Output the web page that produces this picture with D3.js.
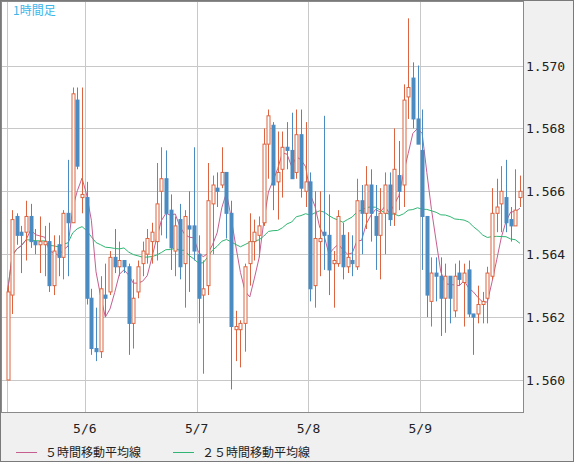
<!DOCTYPE html>
<html>
<head>
<meta charset="utf-8">
<script src="https://cdn.jsdelivr.net/npm/d3@7"></script>
<style>
  body { margin: 0; background: #f0f0f0; }
  svg { display: block; }
</style>
</head>
<body>
<svg id="chart" width="574" height="462"></svg>
<script>
// 1時間足 OHLC
var opens  = [1.5600,1.5627,1.5652,1.5647,1.5647,1.5652,1.5644,1.5643,1.5643,1.5644,1.5630,1.5643,1.5639,1.5653,1.5650,1.5689,1.5658,1.5658,1.5626,1.5610,1.5609,1.5627,1.5628,1.5639,1.5636,1.5638,1.5636,1.5618,
              1.5628,1.5637,1.5640,1.5644,1.5644,1.5660,1.5664,1.5654,1.5641,1.5651,1.5637,1.5649,1.5649,1.5640,1.5627,1.5630,1.5656,1.5661,1.5662,1.5666,1.5653,1.5616,1.5616,1.5618,1.5637,1.5644,1.5646,1.5650,
              1.5675,1.5681,1.5663,1.5667,1.5674,1.5673,1.5666,1.5678,1.5660,1.5663,1.5630,1.5644,1.5647,1.5646,1.5637,1.5637,1.5646,1.5636,1.5638,1.5636,1.5657,1.5653,1.5662,1.5652,1.5646,1.5653,1.5662,
              1.5653,1.5665,1.5662,1.5690,1.5696,1.5683,1.5673,1.5652,1.5625,1.5634,1.5633,1.5626,1.5633,1.5622,1.5634,1.5631,1.5635,1.5621,1.5621,1.5624,1.5626,1.5633,1.5653,1.5656,1.5658,1.5651,1.5649,1.5658];
var highs  = [1.5630,1.5654,1.5653,1.5649,1.5657,1.5656,1.5648,1.5652,1.5649,1.5650,1.5646,1.5646,1.5654,1.5670,1.5693,1.5693,1.5693,1.5663,1.5629,1.5623,1.5633,1.5637,1.5641,1.5648,1.5644,1.5638,1.5637,1.5632,
              1.5638,1.5644,1.5648,1.5650,1.5669,1.5674,1.5673,1.5659,1.5652,1.5656,1.5654,1.5660,1.5674,1.5646,1.5638,1.5669,1.5665,1.5666,1.5674,1.5666,1.5657,1.5622,1.5619,1.5637,1.5653,1.5651,1.5652,1.5680,
              1.5686,1.5682,1.5679,1.5679,1.5682,1.5685,1.5686,1.5686,1.5682,1.5666,1.5660,1.5660,1.5684,1.5659,1.5641,1.5654,1.5650,1.5647,1.5646,1.5664,1.5662,1.5668,1.5667,1.5662,1.5661,1.5666,1.5666,
              1.5680,1.5676,1.5694,1.5715,1.5701,1.5700,1.5686,1.5652,1.5639,1.5639,1.5639,1.5637,1.5633,1.5637,1.5638,1.5637,1.5638,1.5621,1.5630,1.5628,1.5636,1.5661,1.5664,1.5668,1.5670,1.5655,1.5667,1.5665];
var lows   = [1.5600,1.5621,1.5643,1.5634,1.5638,1.5642,1.5640,1.5634,1.5633,1.5628,1.5627,1.5633,1.5632,1.5633,1.5650,1.5667,1.5653,1.5624,1.5608,1.5606,1.5607,1.5620,1.5627,1.5634,1.5633,1.5634,1.5608,1.5610,
              1.5626,1.5633,1.5637,1.5637,1.5638,1.5646,1.5645,1.5635,1.5633,1.5632,1.5623,1.5628,1.5638,1.5618,1.5602,1.5627,1.5640,1.5655,1.5661,1.5645,1.5597,1.5606,1.5604,1.5609,1.5630,1.5638,1.5639,1.5649,
              1.5664,1.5654,1.5651,1.5658,1.5667,1.5664,1.5664,1.5658,1.5655,1.5625,1.5623,1.5633,1.5635,1.5627,1.5623,1.5636,1.5632,1.5634,1.5633,1.5635,1.5640,1.5648,1.5644,1.5635,1.5632,1.5640,1.5649,
              1.5649,1.5654,1.5655,1.5683,1.5680,1.5675,1.5635,1.5620,1.5617,1.5625,1.5614,1.5615,1.5618,1.5620,1.5630,1.5617,1.5620,1.5608,1.5618,1.5618,1.5618,1.5632,1.5647,1.5647,1.5647,1.5644,1.5649,1.5655];
var closes = [1.5628,1.5651,1.5646,1.5646,1.5652,1.5644,1.5643,1.5644,1.5644,1.5630,1.5641,1.5639,1.5653,1.5650,1.5691,1.5668,1.5659,1.5626,1.5610,1.5609,1.5629,1.5626,1.5639,1.5636,1.5638,1.5636,1.5618,1.5626,
              1.5636,1.5641,1.5645,1.5647,1.5656,1.5664,1.5653,1.5642,1.5649,1.5636,1.5652,1.5648,1.5641,1.5626,1.5629,1.5657,1.5662,1.5660,1.5666,1.5653,1.5617,1.5617,1.5618,1.5636,1.5644,1.5647,1.5649,1.5675,
              1.5684,1.5662,1.5666,1.5674,1.5673,1.5664,1.5678,1.5661,1.5663,1.5629,1.5645,1.5645,1.5646,1.5635,1.5638,1.5652,1.5636,1.5639,1.5637,1.5657,1.5653,1.5662,1.5653,1.5646,1.5653,1.5662,1.5651,
              1.5667,1.5660,1.5689,1.5693,1.5683,1.5675,1.5652,1.5627,1.5634,1.5633,1.5626,1.5633,1.5626,1.5633,1.5632,1.5634,1.5621,1.5620,1.5624,1.5625,1.5634,1.5653,1.5655,1.5660,1.5650,1.5649,1.5654,1.5660];
var dayLabels = ['5/6', '5/7', '5/8', '5/9'];
var dayStarts = [16.6, 40.6, 64.6, 88.6];   // candle index where each day begins
var priceTicks = [1.560, 1.562, 1.564, 1.566, 1.568, 1.570];

var upColor = '#dc6440', downColor = '#4a8bc2';
var ma5Color = '#c65f8f', ma25Color = '#2fb673';

var svg = d3.select('#chart');
var plotL = 2, plotR = 523, plotT = 2, plotB = 412;

var x = d3.scaleLinear().domain([0, closes.length - 1]).range([7.5, 520]);
var y = d3.scaleLinear().domain([1.560, 1.570]).range([380, 65.5]);

// outer frame
svg.append('rect').attr('x', 0.5).attr('y', 0.5).attr('width', 573).attr('height', 461)
  .attr('fill', '#f0f0f0').attr('stroke', '#7a7a7a');
svg.append('rect').attr('x', plotL).attr('y', plotT).attr('width', plotR - plotL).attr('height', plotB - plotT)
  .attr('fill', '#fff');

svg.append('defs').append('clipPath').attr('id', 'plot')
  .append('rect').attr('x', plotL).attr('y', plotT).attr('width', plotR - plotL).attr('height', plotB - plotT);

var g = svg.append('g').attr('clip-path', 'url(#plot)');

// grid
g.selectAll('.hgrid').data(priceTicks).enter().append('line')
  .attr('x1', plotL).attr('x2', plotR)
  .attr('y1', function(d) { return Math.round(y(d)) + 0.5; })
  .attr('y2', function(d) { return Math.round(y(d)) + 0.5; })
  .attr('stroke', '#c8c8c8');
g.selectAll('.vgrid').data([7].concat(dayStarts.map(function(d) { return x(d); }))).enter().append('line')
  .attr('x1', function(d) { return Math.round(d) + 0.5; })
  .attr('x2', function(d) { return Math.round(d) + 0.5; })
  .attr('y1', plotT).attr('y2', plotB)
  .attr('stroke', '#c8c8c8');

// moving averages from closes
function movingAvg(n) {
  return closes.map(function(c, i) {
    return d3.mean(closes.slice(Math.max(0, i - n + 1), i + 1));
  });
}
var line = d3.line().x(function(d, i) { return x(i); }).y(function(d) { return y(d); });
g.append('path').datum(movingAvg(25)).attr('d', line).attr('fill', 'none').attr('stroke', ma25Color).attr('stroke-width', 1);
g.append('path').datum(movingAvg(5)).attr('d', line).attr('fill', 'none').attr('stroke', ma5Color).attr('stroke-width', 1);

// candles
var candles = g.selectAll('.candle').data(closes).enter().append('g');
candles.append('line')
  .attr('x1', function(d, i) { return Math.round(x(i)) + 0.5; })
  .attr('x2', function(d, i) { return Math.round(x(i)) + 0.5; })
  .attr('y1', function(d, i) { return y(highs[i]); })
  .attr('y2', function(d, i) { return y(lows[i]); })
  .attr('stroke', function(d, i) { return d >= opens[i] ? upColor : downColor; });
candles.append('rect')
  .attr('x', function(d, i) { return Math.round(x(i)) - 1; })
  .attr('y', function(d, i) { return y(Math.max(d, opens[i])); })
  .attr('width', 3)
  .attr('height', function(d, i) { return Math.max(1, Math.abs(y(d) - y(opens[i]))); })
  .attr('fill', function(d, i) { return d >= opens[i] ? '#fff' : downColor; })
  .attr('stroke', function(d, i) { return d >= opens[i] ? upColor : downColor; })
  .attr('stroke-width', 1);

// plot border
svg.append('rect').attr('x', plotL - 0.5).attr('y', plotT - 0.5).attr('width', plotR - plotL + 1).attr('height', plotB - plotT + 1)
  .attr('fill', 'none').attr('stroke', '#8a8a8a');

// price labels
svg.selectAll('.plabel').data(priceTicks).enter().append('text')
  .attr('x', 526).attr('y', function(d) { return y(d) + 5; })
  .attr('font-family', 'DejaVu Sans Mono').attr('font-size', 13).attr('fill', '#222')
  .text(function(d) { return d3.format('.3f')(d); });

// day labels
svg.selectAll('.dlabel').data(dayLabels).enter().append('text')
  .attr('x', function(d, i) { return x(dayStarts[i]); }).attr('y', 433)
  .attr('text-anchor', 'middle')
  .attr('font-family', 'DejaVu Sans Mono').attr('font-size', 13).attr('fill', '#222')
  .text(function(d) { return d; });

// title
svg.append('text').attr('x', 13).attr('y', 15)
  .attr('font-family', 'Noto Sans CJK JP').attr('font-size', 12).attr('fill', '#3db6ea')
  .text('1時間足');

// legend
var legend = [{ label: '５時間移動平均線', color: ma5Color, x: 16 }, { label: '２５時間移動平均線', color: ma25Color, x: 173 }];
legend.forEach(function(item) {
  svg.append('line').attr('x1', item.x).attr('x2', item.x + 21).attr('y1', 452.5).attr('y2', 452.5).attr('stroke', item.color);
  svg.append('text').attr('x', item.x + 29).attr('y', 457)
    .attr('font-family', 'Noto Sans CJK JP').attr('font-size', 12).attr('fill', '#222')
    .text(item.label);
});
</script>
</body>
</html>
